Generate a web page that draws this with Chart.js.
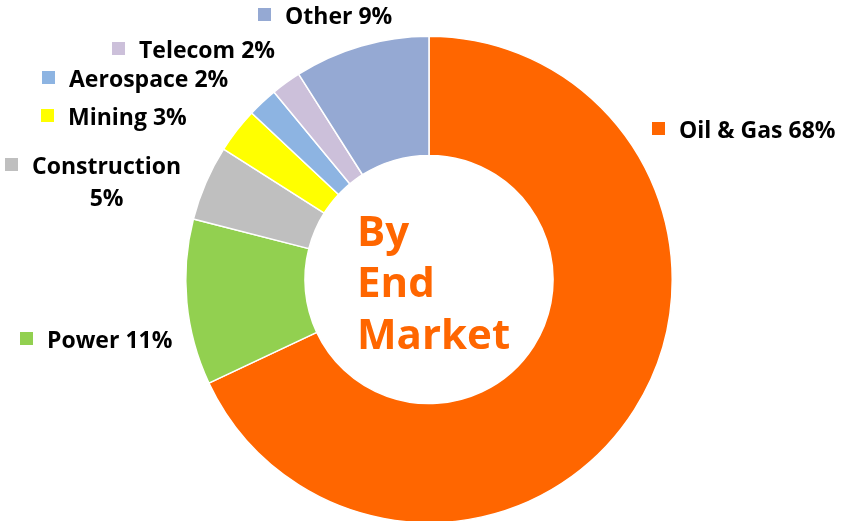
<!DOCTYPE html>
<html>
<head>
<meta charset="utf-8">
<script src="https://cdn.jsdelivr.net/npm/chart.js@4"></script>
<style>
  html, body { margin: 0; padding: 0; background: #fff; overflow: hidden; }
  #wrap { position: relative; width: 843px; height: 524px; }
</style>
</head>
<body>
<div id="wrap"><canvas id="endMarket" width="843" height="524"></canvas></div>
<script>
// data
const markets = ["Oil & Gas", "Power", "Construction", "Mining", "Aerospace", "Telecom", "Other"];
const shares = [68, 11, 5, 3, 2, 2, 9];
const colors = ["#FF6600", "#92D050", "#BFBFBF", "#FFFF00", "#8DB4E2", "#CCC0DA", "#95A9D3"];
const centerLines = ["By", "End", "Market"];

// where each label sits (text left, baseline), same order as markets
const labelSpots = [
  { x: 679, y: 138 },
  { x: 47, y: 348 },
  { x: 32, y: 174, wrap: true },
  { x: 68, y: 125 },
  { x: 69, y: 87 },
  { x: 139, y: 58 },
  { x: 285, y: 24 },
];

const labelFont = "bold 23px 'Open Sans'";

const sideLabels = {
  id: "sideLabels",
  afterDraw(chart) {
    const ctx = chart.ctx;
    const area = chart.chartArea;
    const cx = (area.left + area.right) / 2;
    const cy = (area.top + area.bottom) / 2;

    ctx.save();
    ctx.font = labelFont;
    ctx.textBaseline = "alphabetic";
    markets.forEach((name, i) => {
      const spot = labelSpots[i];
      ctx.fillStyle = colors[i];
      ctx.fillRect(spot.x - 27, spot.y - 16, 13, 13);
      ctx.fillStyle = "#000";
      ctx.textAlign = "left";
      if (spot.wrap) {
        ctx.fillText(name, spot.x, spot.y);
        const w = ctx.measureText(name).width;
        ctx.textAlign = "center";
        ctx.fillText(shares[i] + "%", spot.x + w / 2, spot.y + 32);
      } else {
        ctx.fillText(name + " " + shares[i] + "%", spot.x, spot.y);
      }
    });

    // center title
    ctx.font = "bold 42px 'Open Sans'";
    ctx.fillStyle = "#FF6600";
    ctx.textAlign = "left";
    const offsets = [-34, 17.5, 69];
    centerLines.forEach((line, i) => {
      ctx.fillText(line, cx - 72, cy + offsets[i]);
    });
    ctx.restore();
  },
};

new Chart(document.getElementById("endMarket"), {
  type: "doughnut",
  data: {
    labels: markets,
    datasets: [
      {
        data: shares,
        backgroundColor: colors,
        borderColor: "#fff",
        borderWidth: 1.5,
      },
    ],
  },
  options: {
    responsive: false,
    animation: false,
    events: [],
    cutout: "51%",
    layout: { padding: { top: 35, bottom: 0, left: 185, right: 170 } },
    plugins: {
      legend: { display: false },
      tooltip: { enabled: false },
    },
  },
  plugins: [sideLabels],
});
</script>
</body>
</html>
